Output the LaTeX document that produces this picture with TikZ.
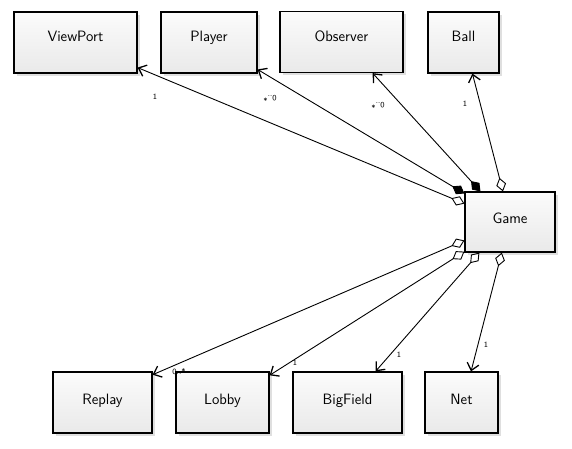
\documentclass[tikz,border=0pt]{standalone}
\usetikzlibrary{arrows.meta,shadows}
\begin{document}
\begin{tikzpicture}[x=1pt,y=-1pt,
  cls/.style={draw, line width=1.2pt, rectangle, top color=gray!3, bottom color=gray!17,
    drop shadow={shadow xshift=2.5pt,shadow yshift=-2.5pt,opacity=0.25},
    minimum height=61pt, text height=10pt, text depth=7pt,
    font=\sffamily\fontsize{15}{17}\selectfont},
  topcls/.style={cls, text depth=12pt},
  agg/.style={draw, line width=0.9pt, {Diamond[open,length=14pt,width=10pt]}-{Straight Barb[length=7pt,width=12pt,line width=1.3pt]}},
  comp/.style={draw, line width=0.9pt, {Diamond[length=14pt,width=10pt]}-{Straight Barb[length=7pt,width=12pt,line width=1.3pt]}},
  mult/.style={font=\sffamily\footnotesize, inner sep=1pt}]
\useasboundingbox (0,0) rectangle (572,448);
\node[topcls, minimum width=123pt] (viewport) at (75.5,42.5) {ViewPort};
\node[topcls, minimum width=96pt] (player) at (209,42.5) {Player};
\node[topcls, minimum width=123pt] (observer) at (341.5,42) {Observer};
\node[topcls, minimum width=71pt] (ball) at (463.5,42.5) {Ball};
\node[cls, minimum width=90pt, minimum height=60pt] (game) at (510,222) {Game};
\node[cls, minimum width=99pt] (replay) at (102.5,402.5) {Replay};
\node[cls, minimum width=93pt] (lobby) at (222.5,402.5) {Lobby};
\node[cls, minimum width=109pt] (bigfield) at (347.5,402.5) {BigField};
\node[cls, minimum width=73pt] (net) at (461.5,402.5) {Net};
\path[agg] (game.158) -- (viewport.-22);
\path[comp] (game.148) -- (player.-29);
\path[comp] (game.134) -- (observer.-45);
\path[agg] (game.103) -- (ball.-74);
\path[agg] (game.202) -- (replay.29);
\path[agg] (game.213) -- (lobby.30);
\path[agg] (game.225) -- (bigfield.48);
\path[agg] (game.255) -- (net.73);
\node[mult] (mviewport) at (155,97) {1};
\node[mult, rotate=180] (mplayer) at (270,98) {0..*};
\node[mult, rotate=180] (mobserver) at (378,105) {0..*};
\node[mult] (mball) at (465,104) {1};
\node[mult] (mreplay) at (179,372) {0..*};
\node[mult] (mlobby) at (295,363) {1};
\node[mult] (mbigfield) at (399,355) {1};
\node[mult] (mnet) at (486,345) {1};
\end{tikzpicture}
\end{document}
